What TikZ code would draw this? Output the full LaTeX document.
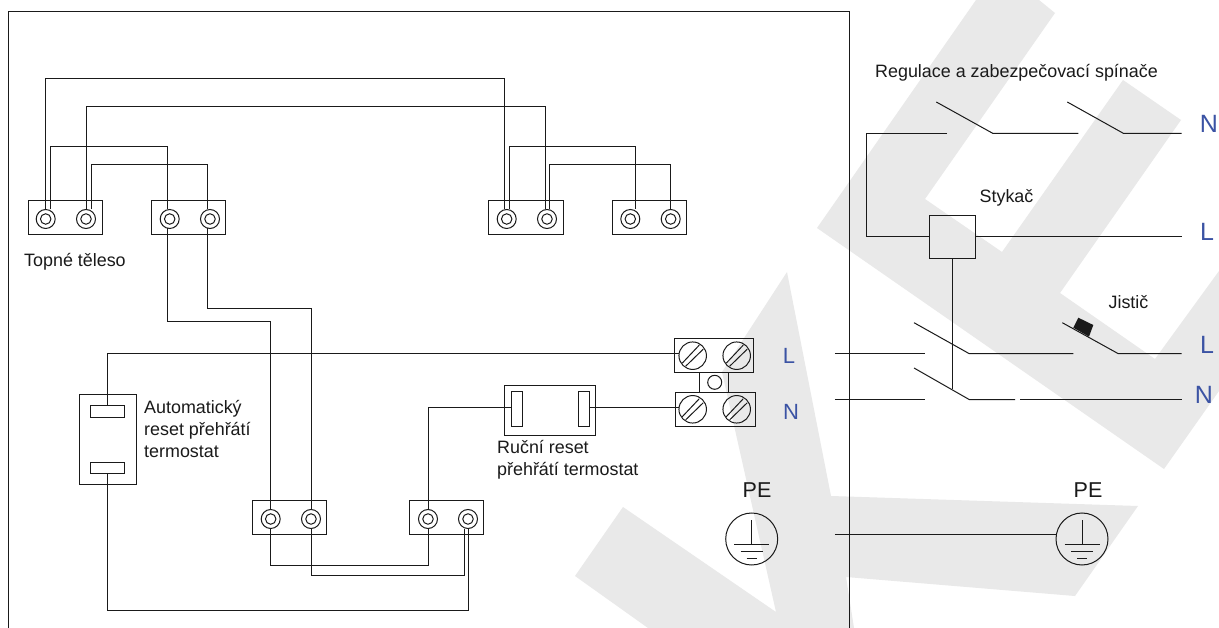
\documentclass[tikz,border=0pt]{standalone}
\usepackage{fontspec}
\setmainfont{Liberation Sans}
\usetikzlibrary{calc}
\definecolor{wm}{HTML}{E9E9E9}
\definecolor{lbl}{HTML}{3B53A4}
\definecolor{ink}{HTML}{1A1A1A}
\tikzset{
  wire/.style={draw=ink,line width=1pt,line join=miter},
  wmark/.style={fill=wm,draw=none},
  box/.style={draw=ink,line width=1pt,fill=none,inner sep=0pt,outer sep=0pt,minimum width=#1},
  tall/.style={minimum height=#1},
  ring/.style={draw=ink,line width=1pt,circle,inner sep=0pt,outer sep=0pt,minimum size=19pt},
  hole/.style={draw=ink,line width=1pt,circle,inner sep=0pt,outer sep=0pt,minimum size=10.5pt},
  screw/.style={draw=ink,line width=1pt,circle,inner sep=0pt,outer sep=0pt,minimum size=27.5pt},
  gnd/.style={draw=ink,line width=1pt,circle,inner sep=0pt,outer sep=0pt,minimum size=52pt},
  txt/.style={inner sep=0pt,text=ink,font=\fontsize{17.9}{22}\selectfont},
  txtl/.style={txt,align=left,anchor=west},
  pelbl/.style={inner sep=0pt,text=ink,font=\fontsize{21.5}{24}\selectfont},
  smlbl/.style={inner sep=0pt,text=lbl,font=\fontsize{22}{26}\selectfont},
  biglbl/.style={inner sep=0pt,text=lbl,font=\fontsize{25}{30}\selectfont},
}
\begin{document}
\begin{tikzpicture}[x=1pt,y=-1pt]
\useasboundingbox (0,0) rectangle (1219,628);
\fill[white] (0,0) rectangle (1219,628);
% watermark
\path[wmark] (976,0) -- (1039,0) -- (1055,13) -- (925,199) -- (1002,252) -- (1123,80) -- (1181,120) -- (1060,293) -- (1155,359) -- (1219,271) -- (1219,391) -- (1164,469) -- (817,228) -- cycle;
\path[wmark] (787,272) -- (722,372) -- (776,612) -- (623,507) -- (575,576) -- (648,628) -- (854,628) -- (846,577) -- (1075,596) -- (1138,506) -- (831,496) -- cycle;
% frame
\coordinate (fa) at (8,628);
\coordinate (fb) at (8,12);
\coordinate (fc) at (849,12);
\coordinate (fd) at (849,628);
\draw[wire] (fa) -- (fb) -- (fc) -- (fd);
% heater terminal blocks
\node[box=74pt,tall=34pt] (t1) at (65,218) {};
\node[box=74pt,tall=34pt] (t2) at (188.7,218) {};
\node[box=75pt,tall=34pt] (t3) at (525.8,218) {};
\node[box=74pt,tall=34pt] (t4) at (649.3,218) {};
\node[box=74pt,tall=34pt] (t5) at (289.6,517) {};
\node[box=74pt,tall=34pt] (t6) at (446.8,517) {};
\foreach \n/\x/\y in {a/45.7/219,b/86/219,c/169.7/219,d/210/219,e/506.7/219,f/547/219,g/630.3/219,h/670.7/219,i/270.7/519,j/311/519,k/428/519,l/468/519}{
  \node[ring] (r\n) at (\x,\y) {};
  \node[hole] (h\n) at (\x,\y) {};
}
% heater wiring
\coordinate (y79) at (0,79);
\coordinate (y107) at (0,106.7);
\coordinate (y147) at (0,146.7);
\coordinate (y165) at (0,164.8);
\coordinate (y309) at (0,309);
\coordinate (y322) at (0,322);
\coordinate (y354) at (0,353.7);
\coordinate (y408) at (0,407.8);
\coordinate (y566) at (0,565.7);
\coordinate (y575) at (0,575);
\coordinate (y611) at (0,610.7);
\draw[wire] (ra.north) -- (ra.north |- y79) -- ($(re.north |- y79)+(-2.7,0)$) -- ($(re.north)+(-2.7,0)$);
\draw[wire] (rb.north) -- (rb.north |- y107) -- ($(rf.north |- y107)+(-2,0)$) -- ($(rf.north)+(-2,0)$);
\draw[wire] ($(ra.north)+(4.3,0)$) -- ($(ra.north |- y147)+(4.3,0)$) -- ($(rc.north |- y147)+(-2.7,0)$) -- ($(rc.north)+(-2.7,0)$);
\draw[wire] ($(rb.north)+(5,0)$) -- ($(rb.north |- y165)+(5,0)$) -- ($(rd.north |- y165)+(-3,0)$) -- ($(rd.north)+(-3,0)$);
\draw[wire] ($(re.north)+(2.3,0)$) -- ($(re.north |- y147)+(2.3,0)$) -- ($(rg.north |- y147)+(4.7,0)$) -- ($(rg.north)+(4.7,0)$);
\draw[wire] ($(rf.north)+(2,0)$) -- ($(rf.north |- y165)+(2,0)$) -- (rh.north |- y165) -- (rh.north);
\draw[wire] ($(rc.south)+(-2.7,0)$) -- ($(rc.south |- y322)+(-2.7,0)$) -- (ri.north |- y322) -- (ri.north);
\draw[wire] ($(rd.south)+(-2.5,0)$) -- ($(rd.south |- y309)+(-2.5,0)$) -- (rj.north |- y309) -- (rj.north);
\draw[wire] (ri.south) -- (ri.south |- y566) -- (rk.south |- y566) -- (rk.south);
\draw[wire] (rj.south) -- (rj.south |- y575) -- ($(rl.south |- y575)+(-4,0)$) -- ($(rl.south)+(-4,0)$);
% automatic reset thermostat
\node[box=57pt,tall=90.3pt] (th) at (107.5,439.8) {};
\node[box=34pt,tall=11.6pt] (tha) at (107.7,411.5) {};
\node[box=34pt,tall=11.4pt] (thb) at (107.7,468) {};
\draw[wire] (rl.south) -- (rl.south |- y611) -- (thb.south |- y611) -- (thb.south);
% manual reset thermostat
\node[box=91pt,tall=49.3pt] (mr) at (549.5,410.4) {};
\node[box=11pt,tall=34pt] (mra) at (516.5,409) {};
\node[box=11pt,tall=34pt] (mrb) at (584.3,409) {};
\draw[wire] (rk.north) -- (rk.north |- y408) -- (mra.west |- y408);
% supply terminals
\node[box=79pt,tall=34pt] (tl) at (713.8,355.3) {};
\node[box=28.6pt,tall=20pt] (tm) at (714,382.3) {};
\node[hole,minimum size=14pt] (tc) at (714.7,382.3) {};
\node[box=79.7pt,tall=34pt] (tn) at (715.8,409.3) {};
\node[screw] (s1) at (692.7,355.7) {};
\node[screw] (s2) at (736.7,355.7) {};
\node[screw] (s3) at (692.7,409.3) {};
\node[screw] (s4) at (736.7,409.3) {};
\foreach \s in {s1,s2,s3,s4}{
  \draw[ink,line width=1pt] ($(\s)+(-10.5,7.5)$) -- ($(\s)+(6.5,-10.5)$);
  \draw[ink,line width=1pt] ($(\s)+(-7,10.5)$) -- ($(\s)+(10.5,-6.5)$);
}
\draw[wire] (tha.north) -- (tha.north |- y354) -- (s1.west |- y354);
\draw[wire] (mrb.east |- y408) -- (s3.west |- y408);
% earth symbols
\node[gnd] (g1) at (751.7,539) {};
\node[gnd] (g2) at (1082,539) {};
\foreach \g in {g1,g2}{
  \draw[ink,line width=1pt] ($(\g)+(0,-19)$) -- ($(\g)+(0,5)$);
  \draw[ink,line width=1pt] ($(\g)+(-17.5,5)$) -- ($(\g)+(17.5,5)$);
  \draw[ink,line width=1pt] ($(\g)+(-11,12)$) -- ($(\g)+(11,12)$);
  \draw[ink,line width=1pt] ($(\g)+(-5,19.5)$) -- ($(\g)+(5,19.5)$);
}
\coordinate (pe0) at (834.8,534);
\draw[wire] (pe0) -- (g2.west |- pe0);
% control circuit
\node[box=45.7pt,tall=43.4pt] (st) at (952.2,237) {};
\coordinate (a1) at (947,133.3);
\coordinate (a2) at (866.7,133.3);
\coordinate (a3) at (866.7,236.7);
\coordinate (b1) at (936.3,102);
\coordinate (b2) at (992.7,133.3);
\coordinate (b3) at (1078.3,133.3);
\coordinate (c1) at (1067.3,102);
\coordinate (c2) at (1123.3,133.3);
\coordinate (c3) at (1181.7,133.3);
\coordinate (d1) at (1181.7,236.7);
\draw[wire] (a1) -- (a2) -- (a3) -- (st.west |- a3);
\draw[wire] (b1) -- (b2) -- (b3);
\draw[wire] (c1) -- (c2) -- (c3);
\draw[wire] (st.east |- d1) -- (d1);
% main switches
\coordinate (l0) at (834.8,353.7);
\coordinate (l1) at (925,353.7);
\coordinate (l2) at (914,322.7);
\coordinate (l3) at (969.3,353.7);
\coordinate (l4) at (1073.3,353.7);
\coordinate (l5) at (1062.3,322.7);
\coordinate (l6) at (1118.3,353.7);
\coordinate (l7) at (1181.7,353.7);
\coordinate (n0) at (834.8,399.6);
\coordinate (n1) at (925,399.6);
\coordinate (n2) at (914,368);
\coordinate (n3) at (969.3,399.6);
\coordinate (n4) at (1015,399.6);
\coordinate (n5) at (1020,399.6);
\coordinate (n6) at (1181.7,399.6);
\coordinate (n7) at (952.2,389.5);
\draw[wire] (l0) -- (l1);
\draw[wire] (l2) -- (l3) -- (l4);
\draw[wire] (l5) -- (l6) -- (l7);
\draw[wire] (n0) -- (n1);
\draw[wire] (n2) -- (n3) -- (n4);
\draw[wire] (n5) -- (n6);
\draw[wire] (st.south) -- (n7);
\fill[ink] (1078.3,317.7) -- (1093.3,325) -- (1089,336.7) -- (1073.3,327.7) -- cycle;
% labels
\node[txtl] (x1) at (24,262) {Topné těleso};
\node[txtl] (x2) at (144,429) {Automatický\\reset přehřátí\\termostat};
\node[txtl] (x3) at (497,460) {Ruční reset\\přehřátí termostat};
\node[txtl] (x4) at (875,73) {Regulace a zabezpečovací spínače};
\node[txt] (x5) at (1006.5,197.5) {Stykač};
\node[txt] (x6) at (1128.5,302) {Jistič};
\node[pelbl] (p1) at (757,490) {PE};
\node[pelbl] (p2) at (1088,490) {PE};
\node[smlbl] (n1l) at (789,355.5) {L};
\node[smlbl] (n2l) at (791,412) {N};
\node[biglbl] (n3l) at (1209,124) {N};
\node[biglbl] (n4l) at (1207,232) {L};
\node[biglbl] (n5l) at (1207,345) {L};
\node[biglbl] (n6l) at (1204,395) {N};
\end{tikzpicture}
\end{document}
